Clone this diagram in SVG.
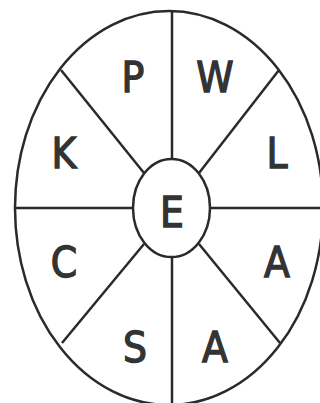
<svg xmlns="http://www.w3.org/2000/svg" width="320" height="403" viewBox="0 0 320 403">
<style>
.ln{stroke:#2a2a2a;stroke-width:2.5;fill:none}
.lt{font-family:"DejaVu Sans Condensed","DejaVu Sans",sans-serif;font-weight:normal;font-size:42px;fill:#333;stroke:#333;stroke-width:1.3;text-anchor:middle}
</style>
<rect width="320" height="403" fill="#fff"/>
<g id="connectors">
<line class="ln" x1="172" y1="10" x2="172" y2="159"/>
<line class="ln" x1="172" y1="257" x2="172" y2="405"/>
<line class="ln" x1="15" y1="208" x2="133" y2="208"/>
<line class="ln" x1="210" y1="208" x2="322" y2="208"/>
<line class="ln" x1="61" y1="70" x2="144" y2="173"/>
<line class="ln" x1="279" y1="70" x2="199" y2="173"/>
<line class="ln" x1="144" y1="244" x2="62" y2="343"/>
<line class="ln" x1="199" y1="244" x2="280" y2="343"/>
</g>
<g id="outer"><ellipse class="ln" cx="169" cy="208" rx="154" ry="197"/></g>
<g id="center"><ellipse class="ln" cx="171.5" cy="208" rx="38.5" ry="49"/><text class="lt" x="172" y="227">E</text></g>
<g id="p"><text class="lt" x="133" y="92">P</text></g>
<g id="w"><text class="lt" x="215" y="92">W</text></g>
<g id="k"><text class="lt" x="64" y="168">K</text></g>
<g id="l"><text class="lt" x="277" y="168">L</text></g>
<g id="c"><text class="lt" x="64" y="277">C</text></g>
<g id="a1"><text class="lt" x="277" y="277">A</text></g>
<g id="s"><text class="lt" x="135" y="362">S</text></g>
<g id="a2"><text class="lt" x="215" y="362">A</text></g>
</svg>
